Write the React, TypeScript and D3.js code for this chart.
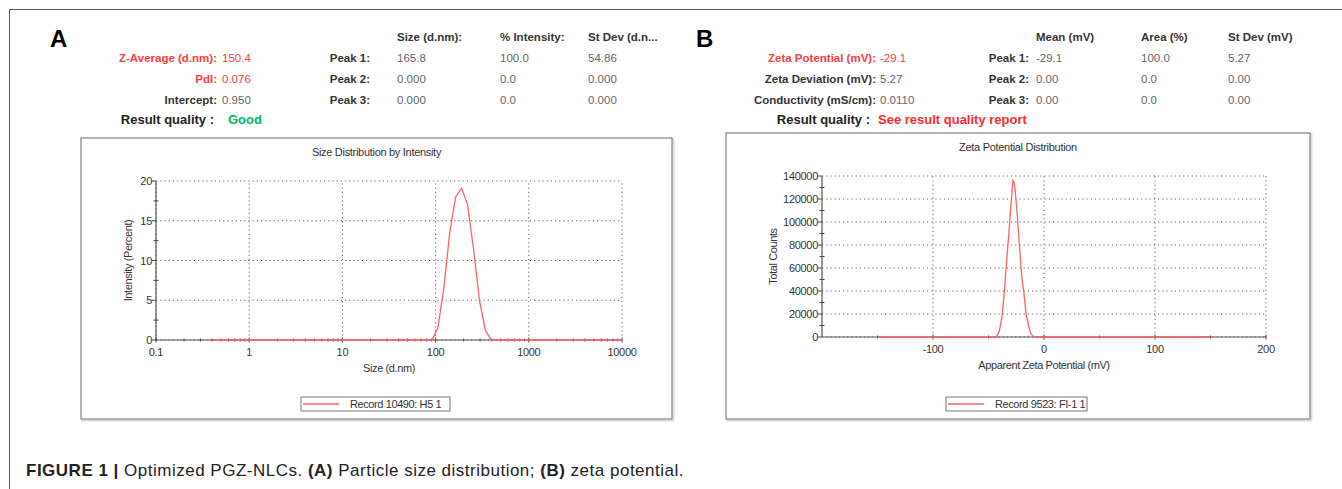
import { useMemo } from "react";
import * as d3 from "d3";

// ---- panel A data (size distribution by intensity) ----
const sizeNm = [0.4, 91.28, 105.7, 122.4, 141.8, 164.2, 190.1, 220.2, 255.0, 295.3, 342.0, 396.1, 10000];
const intensityPct = [0, 0, 1.5, 6.5, 13.5, 18.0, 19.1, 17.0, 11.5, 5.0, 1.2, 0, 0];
const sizeTicks = [0.1, 1, 10, 100, 1000, 10000];
const intensityTicks = [0, 5, 10, 15, 20];

// ---- panel B data (zeta potential distribution) ----
const zetaMv = [-150, -46, -44, -42, -40, -38, -36, -34, -32, -30, -28, -27, -26, -24, -22, -20, -18, -16, -14, -12, -10, -8, 150];
const totalCounts = [0, 0, 0, 1500, 6000, 17000, 36000, 62000, 86000, 112000, 136000, 135000, 128000, 105000, 78000, 52000, 37000, 19000, 10000, 3000, 800, 0, 0];
const zetaTicks = [-100, 0, 100, 200];
const zetaMinorTicks = [-150, -50, 50, 150];
const countTicks = [0, 20000, 40000, 60000, 80000, 100000, 120000, 140000];

// ---- header tables ----
const aLeftLabels = ["Z-Average (d.nm):", "PdI:", "Intercept:"];
const aLeftValues = ["150.4", "0.076", "0.950"];
const aLeftRed = [true, true, false];
const aColHeads = ["Size (d.nm):", "% Intensity:", "St Dev (d.n..."];
const aPeakRows = [
  ["165.8", "100.0", "54.86"],
  ["0.000", "0.0", "0.000"],
  ["0.000", "0.0", "0.000"],
];
const bLeftLabels = ["Zeta Potential (mV):", "Zeta Deviation (mV):", "Conductivity (mS/cm):"];
const bLeftValues = ["-29.1", "5.27", "0.0110"];
const bLeftRed = [true, false, false];
const bColHeads = ["Mean (mV)", "Area (%)", "St Dev (mV)"];
const bPeakRows = [
  ["-29.1", "100.0", "5.27"],
  ["0.00", "0.0", "0.00"],
  ["0.00", "0.0", "0.00"],
];
const peakNames = ["Peak 1:", "Peak 2:", "Peak 3:"];

const FONT = "'Liberation Sans', Arial, sans-serif";
const RED = "#ff3b3b";
const LINE_RED = "#ff6262";
const rowY = [58, 79, 100];
const HF = 11.5; // header font size
const CF = 11; // chart font size

type HeaderProps = {
  letter: string;
  letterX: number;
  labelRight: number;
  valueX: number;
  peakRight: number;
  colX: number[];
  labels: string[];
  values: string[];
  reds: boolean[];
  heads: string[];
  rows: string[][];
  quality: string;
  qualityColor: string;
  qualityRight: number;
  qualityX: number;
};

const Header = (p: HeaderProps) => (
  <g fontFamily={FONT}>
    <text x={p.letterX} y={47} fontSize={24} fontWeight="bold" fill="#000">{p.letter}</text>
    {p.heads.map((h, i) => (
      <text key={h} x={p.colX[i]} y={41} fontSize={HF} fontWeight="bold" fill="#333">{h}</text>
    ))}
    {p.labels.map((l, i) => (
      <g key={l}>
        <text x={p.labelRight} y={rowY[i] + 4} fontSize={HF} fontWeight="bold" textAnchor="end" fill={p.reds[i] ? RED : "#333"}>{l}</text>
        <text x={p.valueX} y={rowY[i] + 4} fontSize={HF} fill={p.reds[i] ? RED : "#666"}>{p.values[i]}</text>
        <text x={p.peakRight} y={rowY[i] + 4} fontSize={HF} fontWeight="bold" textAnchor="end" fill="#333">{peakNames[i]}</text>
        {p.rows[i].map((v, j) => (
          <text key={j} x={p.colX[j]} y={rowY[i] + 4} fontSize={HF} fill="#666">{v}</text>
        ))}
      </g>
    ))}
    <text x={p.qualityRight} y={124} fontSize={13} fontWeight="bold" textAnchor="end" fill="#222">Result quality :</text>
    <text x={p.qualityX} y={124} fontSize={13} fontWeight="bold" fill={p.qualityColor}>{p.quality}</text>
  </g>
);

type ChartProps = {
  box: [number, number, number, number];
  title: string;
  titleY: number;
  x: any;
  y: any;
  xTicks: number[];
  xMinor: number[];
  yTicks: number[];
  yMinor: number[];
  xFmt: (v: number) => string;
  xs: number[];
  ys: number[];
  xLabel: string;
  yLabel: string;
  yLabelX: number;
  legend: string;
  legendBox: [number, number, number, number];
};

const Chart = (p: ChartProps) => {
  const [bx0, by0, bx1, by1] = p.box;
  const [x0, x1] = p.x.range();
  const [y0, y1] = p.y.range();
  const path = useMemo(() => {
    const line = d3
      .line<number>()
      .x((_, i) => p.x(p.xs[i]))
      .y((d) => p.y(d));
    return line(p.ys) || "";
  }, [p.xs, p.ys]);
  const [lx0, ly0, lx1, ly1] = p.legendBox;
  return (
    <g fontFamily={FONT}>
      <rect x={bx0 + 1.5} y={by0 + 1.5} width={bx1 - bx0} height={by1 - by0} fill="none" stroke="#ddd" strokeWidth={2} />
      <rect x={bx0} y={by0} width={bx1 - bx0} height={by1 - by0} fill="#fff" stroke="#8a8a8a" strokeWidth={1.3} />
      <text x={(bx0 + bx1) / 2} y={p.titleY + 4} fontSize={CF} textAnchor="middle" fill="#333" letterSpacing={-0.3}>{p.title}</text>
      {/* dotted grid */}
      {p.xTicks.map((t) => (
        <line key={"gx" + t} x1={p.x(t)} x2={p.x(t)} y1={y0} y2={y1} stroke="#666" strokeDasharray="1.2,3" />
      ))}
      {p.yTicks.map((t) => (
        <line key={"gy" + t} x1={x0} x2={x1} y1={p.y(t)} y2={p.y(t)} stroke="#666" strokeDasharray="1.2,3" />
      ))}
      {/* axes */}
      <line x1={x0} x2={x1} y1={y0} y2={y0} stroke="#555" strokeWidth={1.2} />
      <line x1={x0} x2={x0} y1={y0} y2={y1} stroke="#555" strokeWidth={1.2} />
      {p.yTicks.map((t) => (
        <g key={"yt" + t}>
          <line x1={x0 - 4} x2={x0} y1={p.y(t)} y2={p.y(t)} stroke="#444" />
          <text x={x0 - 4} y={p.y(t) + 4} fontSize={CF} textAnchor="end" fill="#333" letterSpacing={-0.3}>{d3.format("d")(t)}</text>
        </g>
      ))}
      {p.yMinor.map((t) => (
        <line key={"ym" + t} x1={x0 - 2.5} x2={x0 + 2.5} y1={p.y(t)} y2={p.y(t)} stroke="#444" />
      ))}
      {p.xTicks.map((t) => (
        <g key={"xt" + t}>
          <line x1={p.x(t)} x2={p.x(t)} y1={y0 - 2.5} y2={y0 + 2.5} stroke="#444" />
          <text x={p.x(t)} y={y0 + 16} fontSize={CF} textAnchor="middle" fill="#333" letterSpacing={-0.3}>{p.xFmt(t)}</text>
        </g>
      ))}
      {p.xMinor.map((t, i) => (
        <line key={"xm" + i} x1={p.x(t)} x2={p.x(t)} y1={y0 - 1.5} y2={y0 + 1.5} stroke="#444" />
      ))}
      <path d={path} fill="none" stroke={LINE_RED} strokeWidth={1.3} />
      <text x={(x0 + x1) / 2} y={y0 + 32} fontSize={CF} textAnchor="middle" fill="#333" letterSpacing={-0.4}>{p.xLabel}</text>
      <text transform={`translate(${p.yLabelX},${(y0 + y1) / 2}) rotate(-90)`} fontSize={CF} textAnchor="middle" fill="#333" letterSpacing={-0.4}>{p.yLabel}</text>
      {/* legend */}
      <rect x={lx0} y={ly0} width={lx1 - lx0} height={ly1 - ly0} fill="#fff" stroke="#777" strokeWidth={1} />
      <line x1={lx0 + 2} x2={lx0 + 38} y1={(ly0 + ly1) / 2} y2={(ly0 + ly1) / 2} stroke={LINE_RED} strokeWidth={1.3} />
      <text x={lx0 + 49} y={(ly0 + ly1) / 2 + 4} fontSize={CF} fill="#333" letterSpacing={-0.4}>{p.legend}</text>
    </g>
  );
};

export default function App() {
  const xA = d3.scaleLog().domain([0.1, 10000]).range([156, 622]);
  const yA = d3.scaleLinear().domain([0, 20]).range([340, 181]);
  const xB = d3.scaleLinear().domain([-200, 200]).range([822, 1266]);
  const yB = d3.scaleLinear().domain([0, 140000]).range([337, 176]);

  const sizeMinor: number[] = [];
  sizeTicks.slice(0, -1).forEach((d) => {
    for (let k = 2; k < 10; k++) sizeMinor.push(d * k);
  });
  const countMinor = countTicks.slice(0, -1).map((d) => d + 10000);
  const intensityMinor = intensityTicks.slice(0, -1).map((d) => d + 2.5);

  return (
    <div style={{ position: "absolute", left: 0, top: 0 }}>
      <svg width={1342} height={489} style={{ display: "block", background: "#fff" }}>
        <line x1={9} x2={1342} y1={9.5} y2={9.5} stroke="#555" />
        <line x1={9.5} x2={9.5} y1={9} y2={489} stroke="#555" />

        <Header
          letter="A" letterX={50} labelRight={217} valueX={222} peakRight={370}
          colX={[397, 500, 588]} labels={aLeftLabels} values={aLeftValues} reds={aLeftRed}
          heads={aColHeads} rows={aPeakRows} quality="Good" qualityColor="#00b86b"
          qualityRight={214} qualityX={228}
        />
        <Header
          letter="B" letterX={696} labelRight={876} valueX={880} peakRight={1029}
          colX={[1036, 1141, 1228]} labels={bLeftLabels} values={bLeftValues} reds={bLeftRed}
          heads={bColHeads} rows={bPeakRows} quality="See result quality report" qualityColor="#ff2a2a"
          qualityRight={870} qualityX={878}
        />

        <Chart
          box={[81, 138, 672, 419]} title="Size Distribution by Intensity" titleY={152}
          x={xA} y={yA} xTicks={sizeTicks} xMinor={sizeMinor} yTicks={intensityTicks} yMinor={intensityMinor}
          xFmt={(v) => String(v)} xs={sizeNm} ys={intensityPct}
          xLabel="Size (d.nm)" yLabel="Intensity (Percent)" yLabelX={132}
          legend="Record 10490: H5 1" legendBox={[301, 397, 450, 411]}
        />
        <Chart
          box={[726, 133, 1310, 419]} title="Zeta Potential Distribution" titleY={147}
          x={xB} y={yB} xTicks={zetaTicks} xMinor={zetaMinorTicks} yTicks={countTicks} yMinor={countMinor}
          xFmt={(v) => String(v)} xs={zetaMv} ys={totalCounts}
          xLabel="Apparent Zeta Potential (mV)" yLabel="Total Counts" yLabelX={777}
          legend="Record 9523: FI-1 1" legendBox={[946, 397, 1087, 411]}
        />

        <text x={26} y={476} fontFamily={FONT} fontSize={17} fill="#222" letterSpacing={0.5}>
          <tspan fontWeight="bold">FIGURE 1 | </tspan>
          <tspan>Optimized PGZ-NLCs. </tspan>
          <tspan fontWeight="bold">(A)</tspan>
          <tspan> Particle size distribution; </tspan>
          <tspan fontWeight="bold">(B)</tspan>
          <tspan> zeta potential.</tspan>
        </text>
      </svg>
    </div>
  );
}
